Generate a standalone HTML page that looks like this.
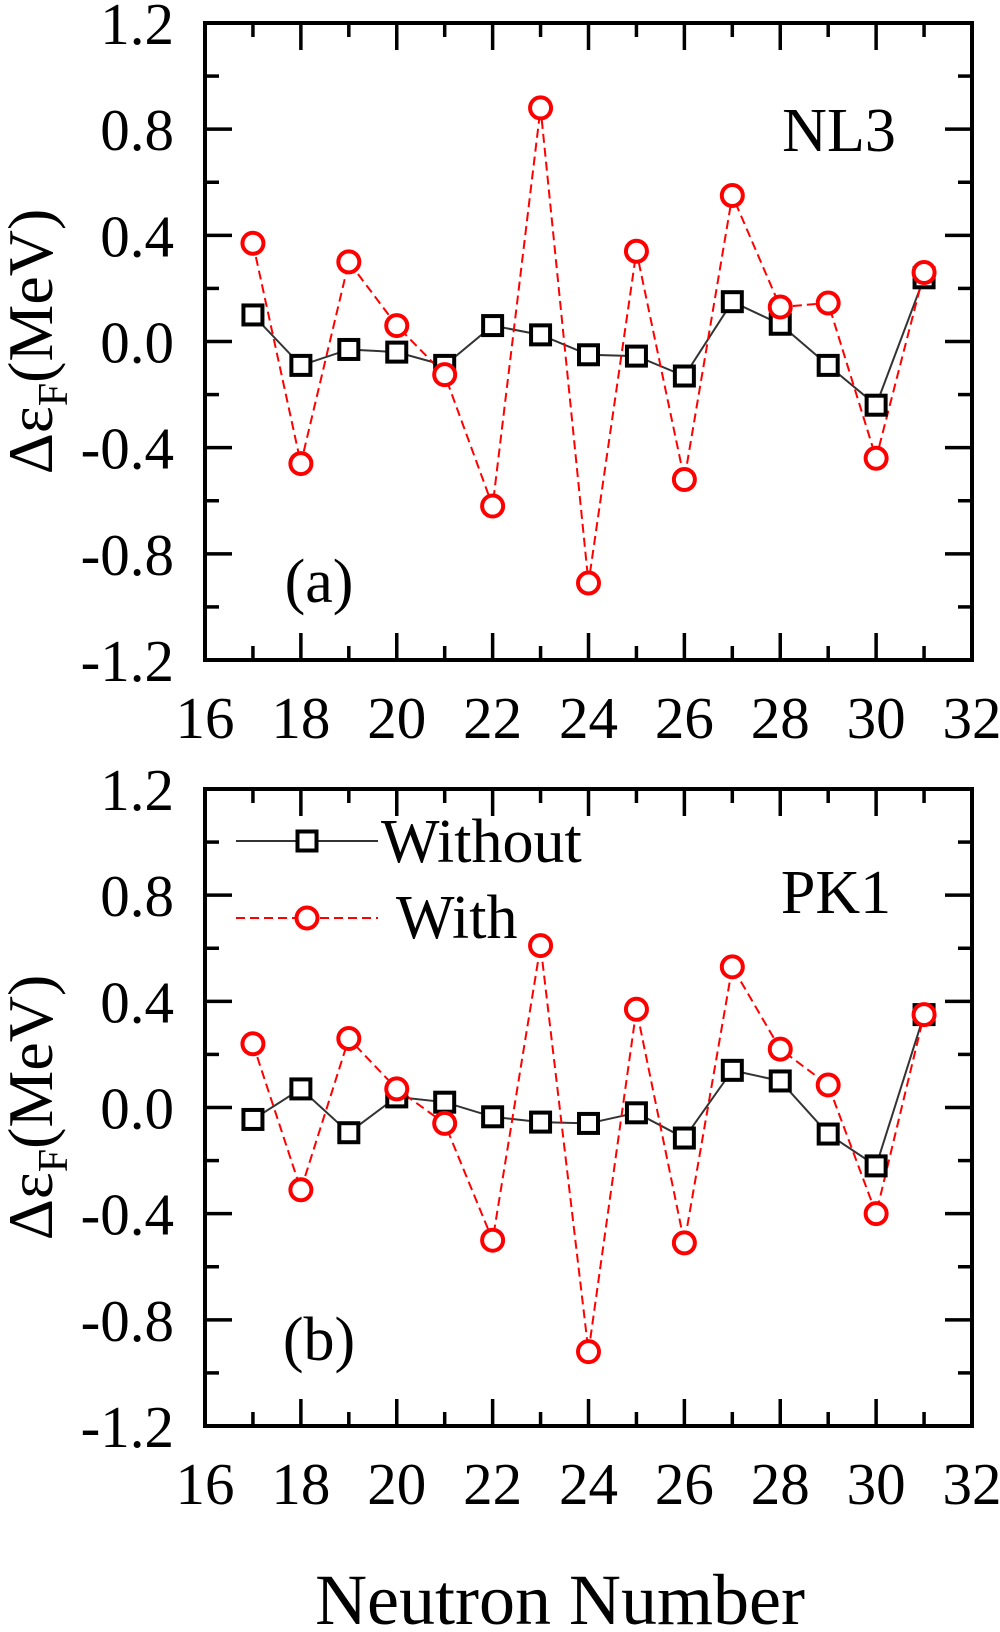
<!DOCTYPE html>
<html><head><meta charset="utf-8"><style>
html,body{margin:0;padding:0;background:#fff;}
svg{display:block;font-family:"Liberation Serif",serif;}
</style></head><body>
<svg id="s" width="1000" height="1632" viewBox="0 0 1000 1632" xmlns="http://www.w3.org/2000/svg"></svg>
<script>
var s=document.getElementById('s'),h='';
var L=205,R=972,ux=(R-L)/16;
function X(v){return L+(v-16)*ux;}
var panels=[
{top:23,bot:660,lab:'NL3',lx:839,ly:151,tag:'(a)',ty:602,
wo:[0.10,-0.09,-0.03,-0.04,-0.09,0.06,0.025,-0.05,-0.055,-0.13,0.15,0.065,-0.09,-0.24,0.24],
wi:[0.37,-0.46,0.30,0.06,-0.125,-0.62,0.88,-0.91,0.34,-0.52,0.55,0.13,0.145,-0.44,0.26]},
{top:789,bot:1426,lab:'PK1',lx:836,ly:913,tag:'(b)',ty:1360,
wo:[-0.045,0.07,-0.095,0.04,0.02,-0.035,-0.055,-0.06,-0.02,-0.115,0.14,0.10,-0.10,-0.22,0.35],
wi:[0.24,-0.31,0.26,0.07,-0.06,-0.50,0.61,-0.92,0.37,-0.51,0.53,0.22,0.085,-0.40,0.35]}];
panels.forEach(function(p){
 var T=p.top,B=p.bot,uy=(B-T)/2.4;
 function Y(v){return T+(1.2-v)*uy;}
 h+='<rect x="'+L+'" y="'+T+'" width="'+(R-L)+'" height="'+(B-T)+'" fill="none" stroke="#000" stroke-width="4"/>';
 for(var i=17;i<32;i++){var x=X(i),len=(i%2==0)?27:14;
  h+='<line x1="'+x+'" y1="'+B+'" x2="'+x+'" y2="'+(B-len)+'" stroke="#000" stroke-width="3.5"/>';
  h+='<line x1="'+x+'" y1="'+T+'" x2="'+x+'" y2="'+(T+len)+'" stroke="#000" stroke-width="3.5"/>';}
 for(var k=1;k<12;k++){var v=1.2-k*0.2,y=Y(v),len=(k%2==0)?27:14;
  h+='<line x1="'+L+'" y1="'+y+'" x2="'+(L+len)+'" y2="'+y+'" stroke="#000" stroke-width="3.5"/>';
  h+='<line x1="'+R+'" y1="'+y+'" x2="'+(R-len)+'" y2="'+y+'" stroke="#000" stroke-width="3.5"/>';}
 ['1.2','0.8','0.4','0.0','-0.4','-0.8','-1.2'].forEach(function(t,k){
  h+='<text x="174" y="'+(T+k*0.4*uy+21)+'" font-size="59" text-anchor="end">'+t+'</text>';});
 for(var i=16;i<=32;i+=2){h+='<text x="'+X(i)+'" y="'+(B+78)+'" font-size="59" text-anchor="middle">'+i+'</text>';}
 var cy=(T+B)/2;
 h+='<text transform="translate(52,'+cy+') rotate(-90)" font-size="64" text-anchor="middle">Δε<tspan font-size="42" dy="15">F</tspan><tspan dy="-15">(MeV)</tspan></text>';
 h+='<text x="'+p.lx+'" y="'+p.ly+'" font-size="62" text-anchor="middle">'+p.lab+'</text>';
 h+='<text x="319" y="'+p.ty+'" font-size="62" text-anchor="middle">'+p.tag+'</text>';
 var a='',b='';
 for(var i=0;i<15;i++){a+=X(17+i)+','+Y(p.wo[i])+' ';b+=X(17+i)+','+Y(p.wi[i])+' ';}
 h+='<polyline points="'+a+'" fill="none" stroke="#333" stroke-width="2"/>';
 h+='<polyline points="'+b+'" fill="none" stroke="#f00" stroke-width="2" stroke-dasharray="9,5"/>';
 for(var i=0;i<15;i++){
  h+='<rect x="'+(X(17+i)-9.5)+'" y="'+(Y(p.wo[i])-9.5)+'" width="19" height="19" fill="#fff" stroke="#000" stroke-width="4"/>';}
 for(var i=0;i<15;i++){
  h+='<circle cx="'+X(17+i)+'" cy="'+Y(p.wi[i])+'" r="10.5" fill="#fff" stroke="#f00" stroke-width="4"/>';}
});
h+='<line x1="236" y1="841" x2="378" y2="841" stroke="#333" stroke-width="2"/>';
h+='<rect x="297.5" y="831.5" width="19" height="19" fill="#fff" stroke="#000" stroke-width="4"/>';
h+='<text x="381" y="862" font-size="62">Without</text>';
h+='<line x1="236" y1="918" x2="378" y2="918" stroke="#f00" stroke-width="2" stroke-dasharray="9,5"/>';
h+='<circle cx="307" cy="918" r="10.5" fill="#fff" stroke="#f00" stroke-width="4"/>';
h+='<text x="396" y="938" font-size="62">With</text>';
h+='<text x="560" y="1624" font-size="72" text-anchor="middle">Neutron Number</text>';
s.innerHTML=h;
</script>
</body></html>
